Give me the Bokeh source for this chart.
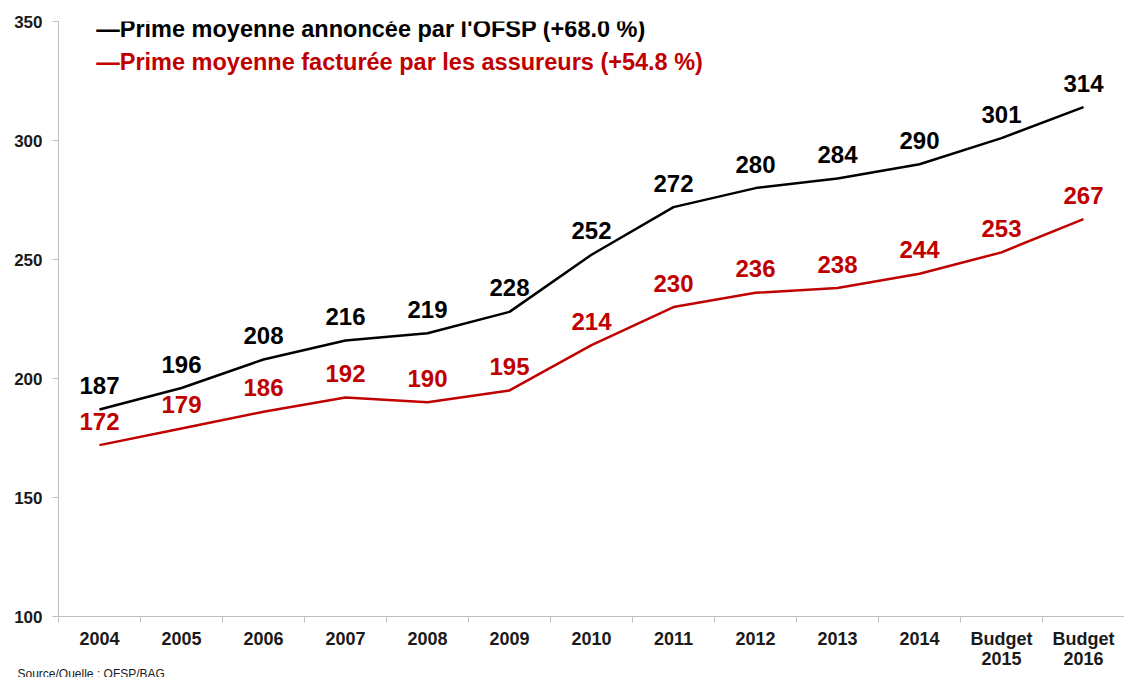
from bokeh.plotting import figure
from bokeh.models import Range1d, FixedTicker, Label, ColumnDataSource, Title
from bokeh.embed import file_html
from bokeh.resources import INLINE
from bokeh.core.properties import value

categories = ["2004", "2005", "2006", "2007", "2008", "2009", "2010", "2011",
              "2012", "2013", "2014", "Budget\n2015", "Budget\n2016"]
ofsp = [187, 196, 208, 216, 219, 228, 252, 272, 280, 284, 290, 301, 314]
assureurs = [172, 179, 186, 192, 190, 195, 214, 230, 236, 238, 244, 253, 267]
y_ticks = [100, 150, 200, 250, 300, 350]

BLACK = "#000000"
RED = "#c00000"
FONT = "Liberation Sans"

n = len(categories)
xs = [i + 0.5 for i in range(n)]

p = figure(width=1124, height=677, output_backend="svg", toolbar_location=None,
           x_range=Range1d(0, n), y_range=Range1d(100, 350),
           min_border_left=58, min_border_right=0, min_border_top=21, min_border_bottom=50)
p.outline_line_color = None
p.xgrid.grid_line_color = None
p.ygrid.grid_line_color = None
p.background_fill_color = "white"

src = ColumnDataSource(dict(x=xs, a=ofsp, b=assureurs,
                            at=[str(v) for v in ofsp], bt=[str(v) for v in assureurs]))

p.line("x", "a", source=src, line_color=BLACK, line_width=2.5)
p.line("x", "b", source=src, line_color=RED, line_width=2.5)

p.text("x", "a", text="at", source=src, text_align="center", text_baseline="middle",
       y_offset=-24, text_font=value(FONT), text_font_style="bold",
       text_font_size="24px", text_color=BLACK)
p.text("x", "b", text="bt", source=src, text_align="center", text_baseline="middle",
       y_offset=-24, text_font=value(FONT), text_font_style="bold",
       text_font_size="24px", text_color=RED)

# x axis
xa = p.xaxis[0]
xa.ticker = FixedTicker(ticks=xs, minor_ticks=list(range(n + 1)))
xa.major_label_overrides = {x: c for x, c in zip(xs, categories)}
xa.major_tick_out = 0
xa.major_tick_in = 0
xa.minor_tick_out = 6
xa.minor_tick_in = 0
xa.minor_tick_line_color = "#bfbfbf"
xa.axis_line_color = "#bfbfbf"
xa.major_label_text_font = FONT
xa.major_label_text_font_style = "bold"
xa.major_label_text_font_size = "18px"
xa.major_label_text_color = "#1a1a1a"
xa.major_label_text_line_height = 1.0
xa.major_label_standoff = 6

# y axis
ya = p.yaxis[0]
ya.ticker = FixedTicker(ticks=y_ticks, minor_ticks=[])
ya.major_tick_out = 6
ya.major_tick_in = 0
ya.major_tick_line_color = "#bfbfbf"
ya.axis_line_color = "#bfbfbf"
ya.major_label_text_font = FONT
ya.major_label_text_font_style = "bold"
ya.major_label_text_font_size = "17px"
ya.major_label_text_color = "#1a1a1a"
ya.major_label_standoff = 10

# legend-like labels
p.add_layout(Label(x=0.46, y=346.7, text="\u2014Prime moyenne annonc\u00e9e par l'OFSP (+68.0 %)",
                   text_font=FONT, text_font_style="bold", text_font_size="23.5px",
                   text_color=BLACK, text_baseline="middle"))
p.add_layout(Label(x=0.46, y=332.9, text="\u2014Prime moyenne factur\u00e9e par les assureurs (+54.8 %)",
                   text_font=FONT, text_font_style="bold", text_font_size="23.5px",
                   text_color=RED, text_baseline="middle"))

p.add_layout(Title(text="Source/Quelle : OFSP/BAG", align="left", offset=-41, standoff=-10,
                   vertical_align="top",
                   text_font=FONT, text_font_size="12px", text_font_style="normal",
                   text_color="#1a1a1a"), "below")

open("out.html", "w").write(file_html(p, INLINE))
